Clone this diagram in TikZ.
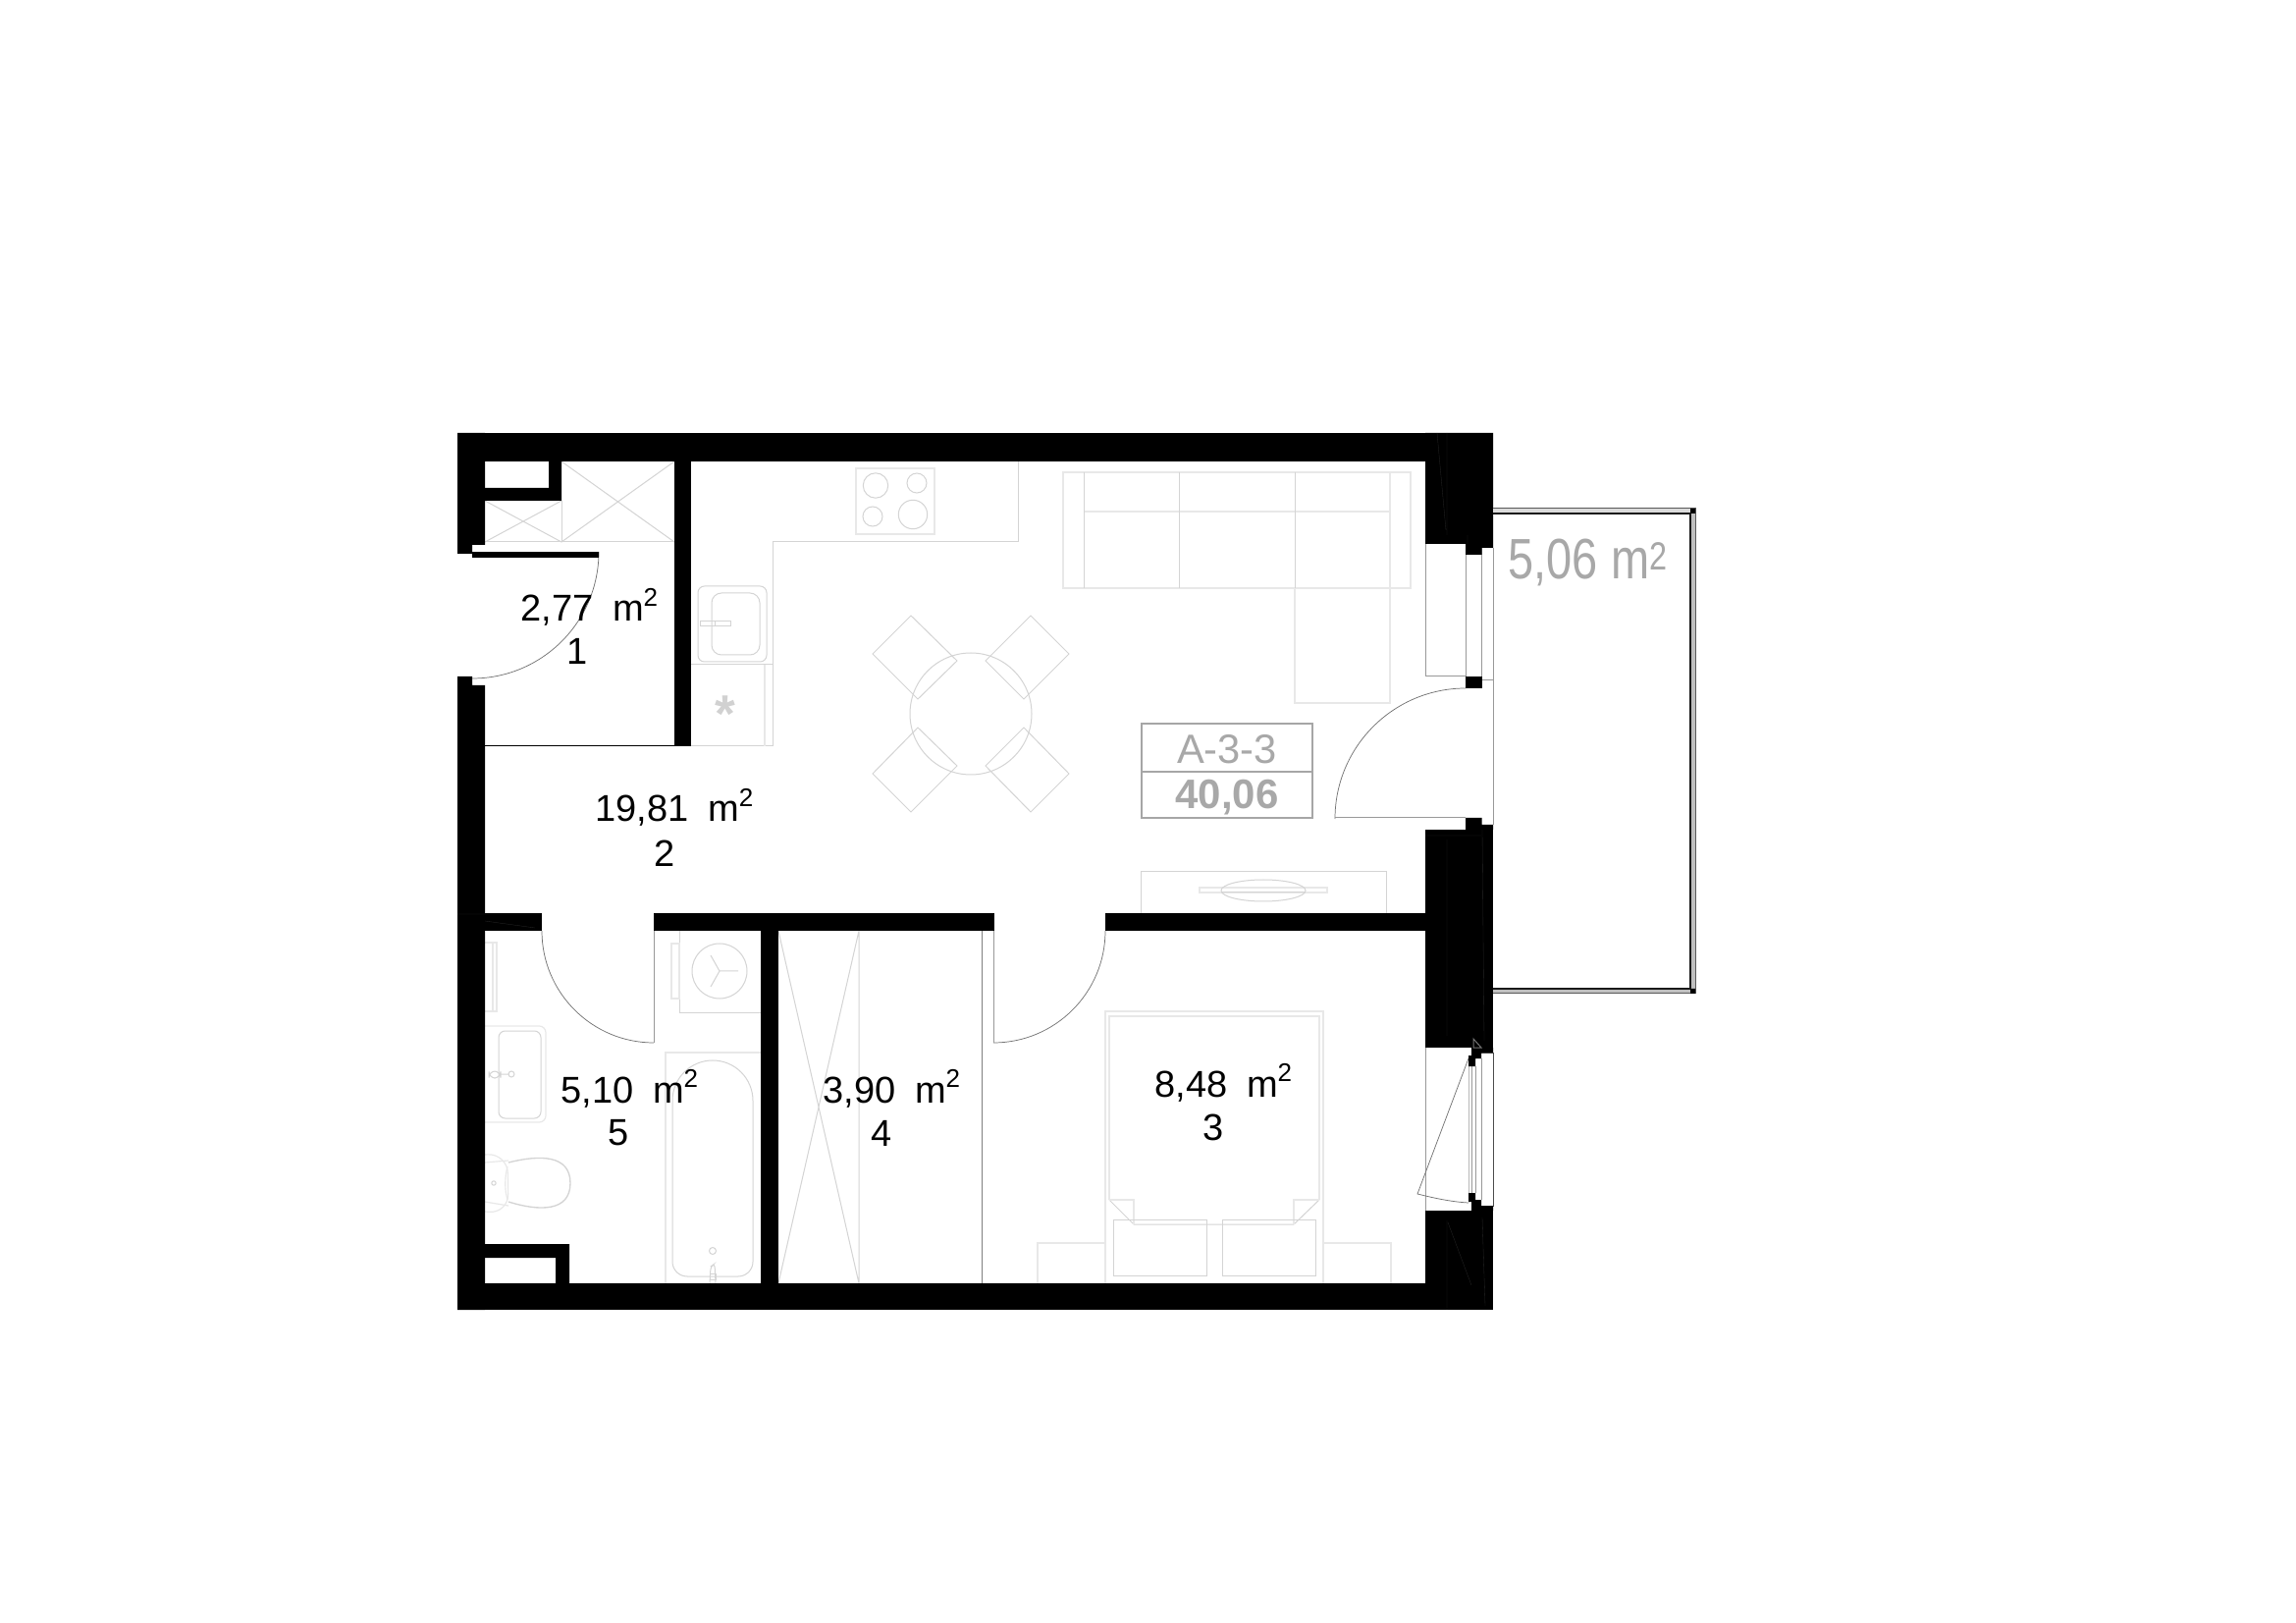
\documentclass[tikz,border=0pt]{standalone}
\usepackage{fontspec}
\usepackage{graphicx}
\setmainfont{Liberation Sans}
\newcommand{\sqmlabel}[1]{#1\hspace{.53em}m\hspace{-.02em}\raisebox{.41em}{\fontsize{7.8}{9}\selectfont 2}}
\tikzset{
  wall/.style={fill=black,draw=none},
  furn/.style={draw=black!17,line width=.3pt},
  furnlight/.style={draw=black!9,line width=.35pt},
  leaf/.style={draw=black!55,line width=.22pt},
  glass/.style={draw=black!40,line width=.3pt},
  seam/.style={draw=black!85,line width=.1pt},
  arealabel/.style={font=\fontsize{11.4}{13}\selectfont,anchor=base west,inner sep=0pt,text=black},
  roomno/.style={font=\fontsize{11.4}{13}\selectfont,anchor=base,inner sep=0pt,text=black},
  tag/.style={draw=black!35,line width=.35pt},
}
\definecolor{taggrey}{gray}{.66}
\begin{document}
\begin{tikzpicture}[x=.3pt,y=-.3pt]
\useasboundingbox (0,0) rectangle (2339,1653);
\fill[white] (0,0) rectangle (2339,1653);

% --- furniture ---
% closet (room 1)
\draw[furn] (494,552) -- (687,552) (572,510) -- (572,552);
\draw[furn] (494,552) -- (572,510) (494,510) -- (572,552);
\draw[furn] (572,470) -- (687,552) (572,552) -- (687,470);
% kitchen counter
\draw[furn] (704,760) -- (787,760) -- (787,552) -- (1037,552) -- (1037,470);
\draw[furn] (704,677) -- (787,677);
\draw[furnlight] (779,677) -- (779,760);
% sink
\draw[furn,rounded corners=2] (711,597) rectangle (781,674);
\draw[furn,rounded corners=3] (725,604) rectangle (774,667);
\draw[furn] (713,633) rectangle (744,638) (728,633) -- (728,638);
% hob
\draw[furnlight] (872,477) rectangle (952,544);
\draw[furn] (892,494.5) circle (12.7) (934,492) circle (10) (889,526) circle (10) (930,524) circle (14.7);
% sofa
\draw[furnlight] (1083,481) -- (1437,481) -- (1437,599) -- (1083,599) -- cycle;
\draw[furnlight] (1104,521) -- (1416,521) (1319,599) -- (1319,716) -- (1416,716) -- (1416,481);
\draw[furn] (1104,481) -- (1104,599) (1201,481) -- (1201,599) (1319,481) -- (1319,599);
% table and chairs
\draw[furn] (989,727) circle (62);
\draw[furn] (928,627) -- (889,666) -- (935,712) -- (975,673) -- cycle;
\draw[furn] (1050,627) -- (1089,666) -- (1043,712) -- (1004,673) -- cycle;
\draw[furn] (935,741) -- (975,780) -- (928,827) -- (889,788) -- cycle;
\draw[furn] (1043,741) -- (1004,780) -- (1050,827) -- (1089,788) -- cycle;
% wash machine
\draw[furn] (692,948) -- (692,1031) -- (775,1031);
\draw[furnlight] (684,961) rectangle (692,1017);
\draw[furn] (733,989) circle (28);
\draw[furn] (733,989) -- (752,989) (733,989) -- (724,973) (733,989) -- (724,1005);
% towel rail
\draw[furnlight] (494,960) -- (506,960) -- (506,1030) -- (494,1030) (502,960) -- (502,1030);
% bathroom basin
\draw[furnlight,rounded corners=2] (494,1045) -- (556,1045) -- (556,1143) -- (494,1143);
\draw[furn,rounded corners=2] (508,1050) rectangle (551,1139);
\draw[furn,rounded corners=2] (498,1091) rectangle (510,1098);
\draw[furn] (510,1094) -- (518,1094) (521,1094) circle (3);
% toilet
\draw[furnlight,rounded corners=6] (494,1176) -- (517,1175) -- (518,1236) -- (494,1234);
\draw[furnlight] (494,1184) -- (518,1182) (494,1224) -- (518,1228);
\draw[furn,line width=.4pt] (518,1184) .. controls (550,1176) and (581,1176) .. (581,1205) .. controls (581,1234) and (550,1234) .. (518,1224);
\draw[furnlight] (517,1188) .. controls (514,1200) and (514,1212) .. (517,1222);
\draw[furn] (503,1205) circle (2.2);
% bath
\draw[furnlight] (678,1307) -- (678,1072) -- (775,1072);
\draw[furn] (685,1121) arc (180:270:41) arc (270:360:41) -- (767,1285) arc (0:90:15) -- (700,1300) arc (90:180:15) -- cycle;
\draw[furn] (726,1274) circle (3.5);
\draw[furn,rounded corners=1] (723,1307) -- (724,1290) -- (728,1287) -- (729,1307);
\draw[furn] (723,1297) rectangle (729,1303);
% wardrobe (room 4)
\draw[furn] (793,948) -- (875,1307) (793,1307) -- (875,948) (875,948) -- (875,1307);
\draw[draw=black!50,line width=.3pt] (1000,948) -- (1000,1307);
% bed
\draw[furnlight] (1126,1307) -- (1126,1030) -- (1348,1030) -- (1348,1307);
\draw[furnlight] (1130,1222) -- (1130,1035) -- (1344,1035) -- (1344,1222);
\draw[furn] (1130,1222) -- (1155,1247) -- (1318,1247) -- (1344,1222);
\draw[furnlight] (1130,1222) -- (1155,1222) -- (1155,1247) (1344,1222) -- (1318,1222) -- (1318,1247);
\draw[furn] (1134,1242) rectangle (1229,1299) (1245,1242) rectangle (1340,1299);
\draw[furnlight] (1057,1307) -- (1057,1266) -- (1126,1266) (1348,1266) -- (1417,1266) -- (1417,1307);
% TV
\draw[furn] (1162,930) -- (1162,888) -- (1412,888) -- (1412,930);
\draw[furnlight] (1222,904) rectangle (1352,909);
\draw[furn] (1287,907) ellipse (43 and 11);
\draw[furn] (1244,909) -- (1330,909);

% --- doors and windows ---
\draw[leaf] (610,562) arc (0:90:129);
\draw[black,line width=.3pt] (494,760) -- (687,760);
\draw[leaf] (552,948) arc (180:90:114);
\draw[glass] (666,1062) -- (666,948);
\draw[leaf] (1126,948) arc (0:90:114);
\draw[glass] (1012,1062) -- (1012,948);
\draw[leaf] (1493,701) arc (270:180:133);
\draw[glass] (1360,833) -- (1493,833);
\draw[glass] (1521,693) -- (1521,840);
% window, living room
\draw[glass] (1452,554) -- (1452,689) -- (1493,689);
\draw[glass] (1493,565) -- (1493,689) (1509.5,558) -- (1509.5,693) (1509.5,693) -- (1521,693) (1521,558) -- (1521,693);
% window, bedroom
\draw[glass] (1452,1067) -- (1452,1233);
\draw[draw=black!28,line width=.55pt] (1496.5,1086) -- (1496.5,1215);
\draw[glass] (1499.7,1086) -- (1499.7,1215) (1503,1086) -- (1503,1215) (1509,1078) -- (1509,1222);
\draw[draw=black!70,line width=.3pt] (1509,1072) -- (1521,1072) -- (1521,1228) -- (1509,1228);
\draw[leaf] (1496,1078) -- (1444,1216) .. controls (1460,1220) and (1478,1224) .. (1496,1225);

% --- walls ---
\fill[wall] (466,441) rectangle (1521,470);
\fill[wall] (466,441) rectangle (481,564) (481,441) rectangle (494,555);
\fill[wall] (481,562) rectangle (610,568);
\fill[wall] (494,497) rectangle (572,510) (559,470) rectangle (572,510);
\fill[wall] (687,470) rectangle (704,760);
\fill[wall] (466,689) rectangle (481,1334) (481,698) rectangle (494,1334);
\fill[wall] (466,1307) rectangle (1521,1334);
\fill[wall] (466,930) rectangle (552,948);
\fill[wall] (666,930) rectangle (1013,948);
\fill[wall] (1126,930) rectangle (1452,948);
\fill[wall] (775,948) rectangle (793,1307);
\fill[wall] (494,1267) rectangle (580,1281) (566,1267) rectangle (580,1307);
% right wall, upper block
\fill[wall] (1452,441) rectangle (1521,554) (1493,554) rectangle (1509.5,565) (1509.5,554) rectangle (1521,558);
\fill[wall] (1493,689) rectangle (1509.5,701);
% right wall, middle block
\fill[wall] (1452,845) rectangle (1521,1067);
\fill[wall] (1493,833) rectangle (1509.5,845) (1509.5,840) rectangle (1521,845);
\fill[wall] (1499,1067) rectangle (1509,1078) (1509,1067) rectangle (1521,1072) (1496,1075) rectangle (1503,1086);
% right wall, lower block
\fill[wall] (1452,1233) rectangle (1521,1334);
\fill[wall] (1509,1228) rectangle (1521,1233) (1499,1222) rectangle (1509,1233) (1496,1215) rectangle (1503,1224);
% seams inside the walls
\draw[seam] (1474,441) -- (1474,545) (1464,441) -- (1473,540) (1495,545) -- (1495,554);
\draw[seam] (1474,855) -- (1474,1055) (1510,845) -- (1512,1060);
\draw[seam] (1474,1243) -- (1474,1334) (1475,1245) -- (1499,1309) (1510,1240) -- (1513,1330);
\draw[seam] (1452,851) -- (1509,851) (466,931) -- (552,931) (494,938) -- (545,945);
\draw[draw=black!55,line width=.3pt] (1501,1058) -- (1501,1067) -- (1509,1067) -- cycle;

% --- balcony ---
\fill[black!14] (1521,518) rectangle (1727,523);
\fill[black!25] (1722,518) rectangle (1727,1012);
\fill[black!25] (1521,1007) rectangle (1727,1012);
\draw[draw=black!65,line width=.3pt] (1521,518) -- (1727,518) -- (1727,1012) -- (1521,1012);
\draw[draw=black!90,line width=.35pt] (1521,523) -- (1722,523) -- (1722,1007) -- (1521,1007);
\fill[black] (1722,518) rectangle (1727,523) (1722,1007) rectangle (1727,1012);

% --- unit tag ---
\draw[tag] (1163,737) rectangle (1337,833) (1163,786) -- (1337,786);

% --- texts ---
\node[arealabel] (area1) at (530,633) {\sqmlabel{2,77}};
\node[roomno] (no1) at (588,677) {1};
\node[arealabel] (area2) at (606,837) {\sqmlabel{19,81}};
\node[roomno] (no2) at (677,882) {2};
\node[arealabel] (area3) at (1176,1117) {\sqmlabel{8,48}};
\node[roomno] (no3) at (1236,1161) {3};
\node[arealabel] (area4) at (838,1123) {\sqmlabel{3,90}};
\node[roomno] (no4) at (898,1167) {4};
\node[arealabel] (area5) at (571,1123) {\sqmlabel{5,10}};
\node[roomno] (no5) at (630,1166) {5};
\node[anchor=base,inner sep=0pt,text=taggrey,font=\fontsize{12.5}{14}\selectfont] (unit) at (1250,778) {A-3-3};
\node[anchor=base,inner sep=0pt,text=taggrey,font=\bfseries\fontsize{12.6}{14}\selectfont] (size) at (1250,824) {40,06};
\node[anchor=base west,inner sep=0pt,text=taggrey,font=\fontsize{17.4}{20}\selectfont] (balcony) at (1536,590) {\scalebox{.81}[1]{5,06 m\raisebox{.17em}{\fontsize{12}{13}\selectfont 2}}};
\node[anchor=base,inner sep=0pt,text=black!18,font=\bfseries\fontsize{16}{18}\selectfont] (fridge) at (739,746) {*};
\end{tikzpicture}
\end{document}
